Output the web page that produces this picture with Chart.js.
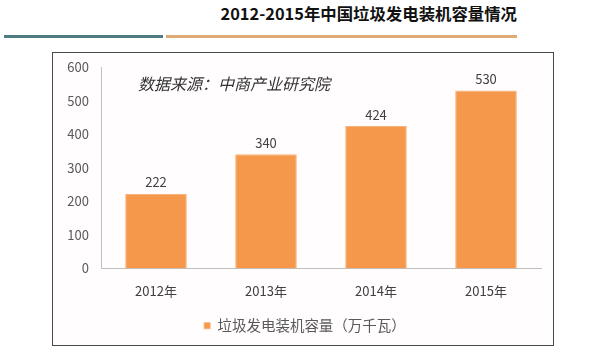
<!DOCTYPE html>
<html>
<head>
<meta charset="utf-8">
<script src="https://cdn.jsdelivr.net/npm/chart.js@4/dist/chart.umd.min.js"></script>
<style>
  html, body { margin: 0; padding: 0; background: #ffffff; }
  #wrap { position: relative; width: 600px; height: 355px; overflow: hidden; background: #fff; }
  #title { position: absolute; right: 83px; top: 1px; font-family: "Noto Sans CJK SC", sans-serif; font-weight: bold; font-size: 16.4px; color: #111; white-space: nowrap; }
  #lineA { position: absolute; left: 4px; top: 35px; width: 159px; height: 3px; background: #4e7c80; }
  #lineB { position: absolute; left: 166px; top: 35px; width: 351px; height: 3px; background: #dcaa72; }
  #box { position: absolute; left: 52px; top: 52px; width: 502px; height: 294px; border: 1.5px solid #4a4a4a; box-sizing: border-box; background: #fffdfd; }
  #note { position: absolute; left: 138px; top: 71px; font-family: "Noto Sans CJK SC", sans-serif; font-style: italic; font-size: 16px; color: #333; white-space: nowrap; }
  canvas { position: absolute; left: 0; top: 0; }
</style>
</head>
<body>
<div id="wrap">
  <div id="title">2012-2015年中国垃圾发电装机容量情况</div>
  <div id="lineA"></div>
  <div id="lineB"></div>
  <div id="box"></div>
  <canvas id="c" width="600" height="355"></canvas>
  <div id="note">数据来源：中商产业研究院</div>
</div>
<script>
const categories = ["2012年", "2013年", "2014年", "2015年"];
const capacity = [222, 340, 424, 530];
const seriesName = "垃圾发电装机容量（万千瓦）";
const yTicks = [0, 100, 200, 300, 400, 500, 600];

const FONT = '"Noto Sans CJK SC", "Noto Sans", sans-serif';

const valueLabels = {
  id: 'valueLabels',
  afterDatasetsDraw(chart) {
    const ctx = chart.ctx;
    ctx.save();
    ctx.font = '13px ' + FONT;
    ctx.fillStyle = '#404040';
    ctx.textAlign = 'center';
    ctx.textBaseline = 'bottom';
    chart.getDatasetMeta(0).data.forEach((bar, i) => {
      ctx.fillText(String(chart.data.datasets[0].data[i]), bar.x, bar.y - 5);
    });
    ctx.restore();
  }
};

// move the legend so it is centred in the framed box like the reference
const legendShift = {
  id: 'legendShift',
  afterLayout(chart) {
    const lg = chart.legend;
    if (!lg) return;
    const d = 305 - (lg.left + lg.right) / 2;
    lg.left += d; lg.right += d;
  }
};

new Chart(document.getElementById('c'), {
  type: 'bar',
  data: {
    labels: categories,
    datasets: [{
      label: seriesName,
      data: capacity,
      backgroundColor: '#F6984B',
      borderColor: '#F8B27A',
      borderWidth: 1,
      categoryPercentage: 1,
      barPercentage: 0.56
    }]
  },
  options: {
    responsive: false,
    animation: false,
    layout: { padding: { left: 20, right: 59, top: 67, bottom: 12 } },
    plugins: {
      legend: {
        position: 'bottom',
        labels: {
          boxWidth: 6, boxHeight: 6, padding: 14,
          color: '#595959',
          font: { family: FONT, size: 14.5 }
        }
      },
      tooltip: { enabled: false }
    },
    scales: {
      x: {
        grid: { display: false, drawTicks: false },
        border: { display: true, color: '#c0c0c0', width: 1 },
        ticks: { color: '#404040', padding: 15, font: { family: FONT, size: 13 } },
        afterFit(s) { s.height = 36; }
      },
      y: {
        min: 0, max: 600,
        afterBuildTicks(s) { s.ticks = yTicks.map(v => ({ value: v })); },
        grid: { display: false, drawTicks: false },
        border: { display: true, color: '#c0c0c0', width: 1 },
        ticks: { color: '#595959', padding: 12, font: { family: FONT, size: 13 } },
        afterFit(s) { s.width = 81; }
      }
    }
  },
  plugins: [valueLabels, legendShift]
});
</script>
</body>
</html>
